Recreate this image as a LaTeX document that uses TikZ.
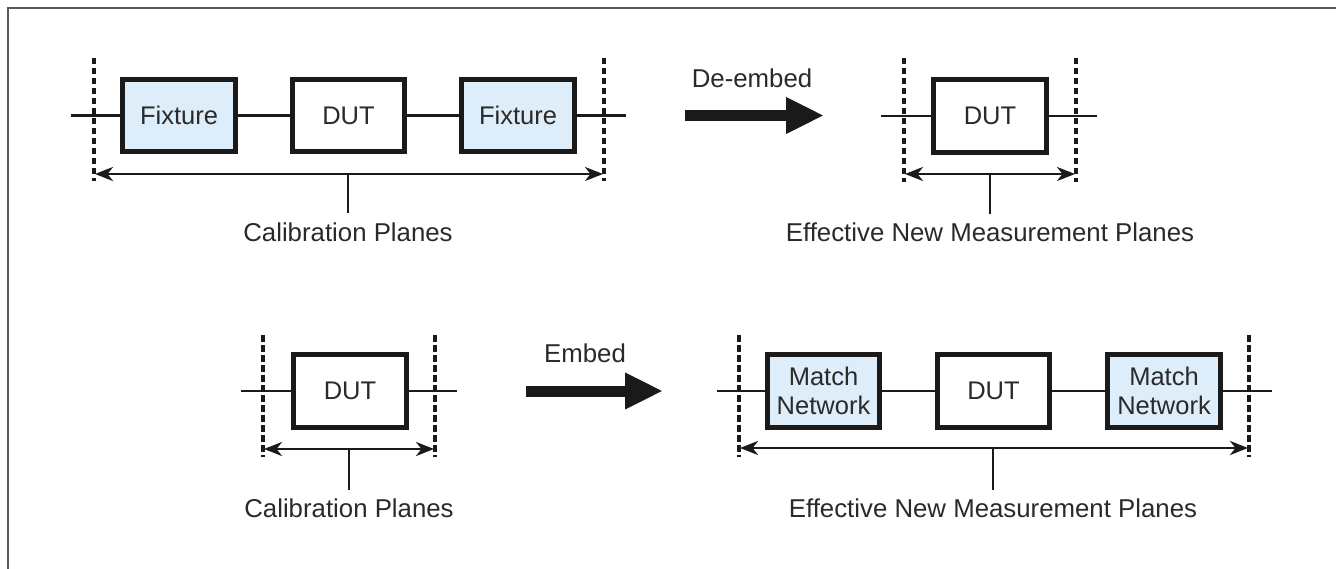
\documentclass[tikz,border=0pt]{standalone}
\usepackage{fontspec}
\setmainfont{Liberation Sans}
\usetikzlibrary{arrows.meta}
\definecolor{ink}{HTML}{1A1A1A}
\definecolor{txt}{HTML}{2A2A2A}
\definecolor{netfill}{HTML}{DDEDF9}
\definecolor{framegray}{HTML}{5A5A5A}

\begin{document}
\begin{tikzpicture}[x=1pt,y=-1pt,
  block/.style={draw=ink, line width=4.6pt, minimum width=112.5pt, minimum height=72.5pt,
    inner sep=0pt, text=txt, align=center, font=\fontsize{25.5}{29}\selectfont},
  netblock/.style={block, fill=netfill},
  wire/.style={draw=ink, line width=2.8pt},
  plane/.style={draw=ink, line width=3.8pt, dash pattern=on 6.5pt off 3.5pt},
  span/.style={draw=ink, line width=2.9pt,
    {Stealth[length=18pt,width=14pt,inset=5.5pt]}-{Stealth[length=18pt,width=14pt,inset=5.5pt]}},
  stem/.style={draw=ink, line width=2.9pt},
  caption/.style={text=txt, anchor=base, inner sep=0pt, font=\fontsize{25.8}{30}\selectfont},
  bigarrow/.style={draw=ink, line width=11pt, -{Triangle[length=38pt,width=34pt]}}
]
\useasboundingbox (0,0) rectangle (1336,569);
\fill[white] (0,0) rectangle (1336,569);
% frame
\draw[framegray, line width=2.2pt] (8,569) -- (8,8) -- (1336,8);

% ---------- de-embedding: fixture - DUT - fixture ----------
\node[netblock] (fx1) at (179,115.5) {Fixture};
\node[block]    (dut1) at (348.5,115.5) {DUT};
\node[netblock] (fx2) at (518,115.5) {Fixture};
\coordinate (l1) at (71,115.5);
\coordinate (r1) at (626,115.5);
\draw[wire] (l1) -- (fx1.west);
\draw[wire] (fx1.east) -- (dut1.west);
\draw[wire] (dut1.east) -- (fx2.west);
\draw[wire] (fx2.east) -- (r1);
\coordinate (p1a) at (94,58);  \coordinate (p1b) at (94,181);
\coordinate (p1c) at (604,58); \coordinate (p1d) at (604,181);
\draw[plane] (p1a) -- (p1b);
\draw[plane] (p1c) -- (p1d);
\coordinate (s1l) at (95,174); \coordinate (s1r) at (603,174);
\draw[span] (s1l) -- (s1r);
\coordinate (t1a) at (348,174); \coordinate (t1b) at (348,213);
\draw[stem] (t1a) -- (t1b);
\node[caption] (cap1) at (348,242) {Calibration Planes};

% de-embed arrow
\coordinate (da) at (685,115.5);
\coordinate (db) at (824,115.5);
\draw[bigarrow] (da) -- (db);
\node[caption] (lbl1) at (752,88) {De-embed};

% ---------- resulting DUT ----------
\node[block] (dut2) at (990,116) {DUT};
\coordinate (l2) at (881,116);
\coordinate (r2) at (1097,116);
\draw[wire] (l2) -- (dut2.west);
\draw[wire] (dut2.east) -- (r2);
\coordinate (p2a) at (904,58);  \coordinate (p2b) at (904,182);
\coordinate (p2c) at (1076,58); \coordinate (p2d) at (1076,182);
\draw[plane] (p2a) -- (p2b);
\draw[plane] (p2c) -- (p2d);
\coordinate (s2l) at (905,174); \coordinate (s2r) at (1075,174);
\draw[span] (s2l) -- (s2r);
\coordinate (t2a) at (990,174); \coordinate (t2b) at (990,214);
\draw[stem] (t2a) -- (t2b);
\node[caption] (cap2) at (990,242) {Effective New Measurement Planes};

% ---------- embedding: bare DUT ----------
\node[block] (dut3) at (350,391) {DUT};
\coordinate (l3) at (241,391);
\coordinate (r3) at (457,391);
\draw[wire] (l3) -- (dut3.west);
\draw[wire] (dut3.east) -- (r3);
\coordinate (p3a) at (263,335); \coordinate (p3b) at (263,457);
\coordinate (p3c) at (435,335); \coordinate (p3d) at (435,457);
\draw[plane] (p3a) -- (p3b);
\draw[plane] (p3c) -- (p3d);
\coordinate (s3l) at (264,449); \coordinate (s3r) at (434,449);
\draw[span] (s3l) -- (s3r);
\coordinate (t3a) at (349,449); \coordinate (t3b) at (349,490);
\draw[stem] (t3a) -- (t3b);
\node[caption] (cap3) at (349,517) {Calibration Planes};

% embed arrow
\coordinate (ea) at (526,391);
\coordinate (eb) at (663,391);
\draw[bigarrow] (ea) -- (eb);
\node[caption] (lbl2) at (585,362) {Embed};

% ---------- match network - DUT - match network ----------
\node[netblock] (mn1) at (823.5,391) {Match\\Network};
\node[block]    (dut4) at (993.5,391) {DUT};
\node[netblock] (mn2) at (1164,391) {Match\\Network};
\coordinate (l4) at (717,391);
\coordinate (r4) at (1272,391);
\draw[wire] (l4) -- (mn1.west);
\draw[wire] (mn1.east) -- (dut4.west);
\draw[wire] (dut4.east) -- (mn2.west);
\draw[wire] (mn2.east) -- (r4);
\coordinate (p4a) at (739,335);  \coordinate (p4b) at (739,457);
\coordinate (p4c) at (1249,335); \coordinate (p4d) at (1249,457);
\draw[plane] (p4a) -- (p4b);
\draw[plane] (p4c) -- (p4d);
\coordinate (s4l) at (740,448); \coordinate (s4r) at (1248,448);
\draw[span] (s4l) -- (s4r);
\coordinate (t4a) at (993,448); \coordinate (t4b) at (993,490);
\draw[stem] (t4a) -- (t4b);
\node[caption] (cap4) at (993,517) {Effective New Measurement Planes};
\end{tikzpicture}
\end{document}
